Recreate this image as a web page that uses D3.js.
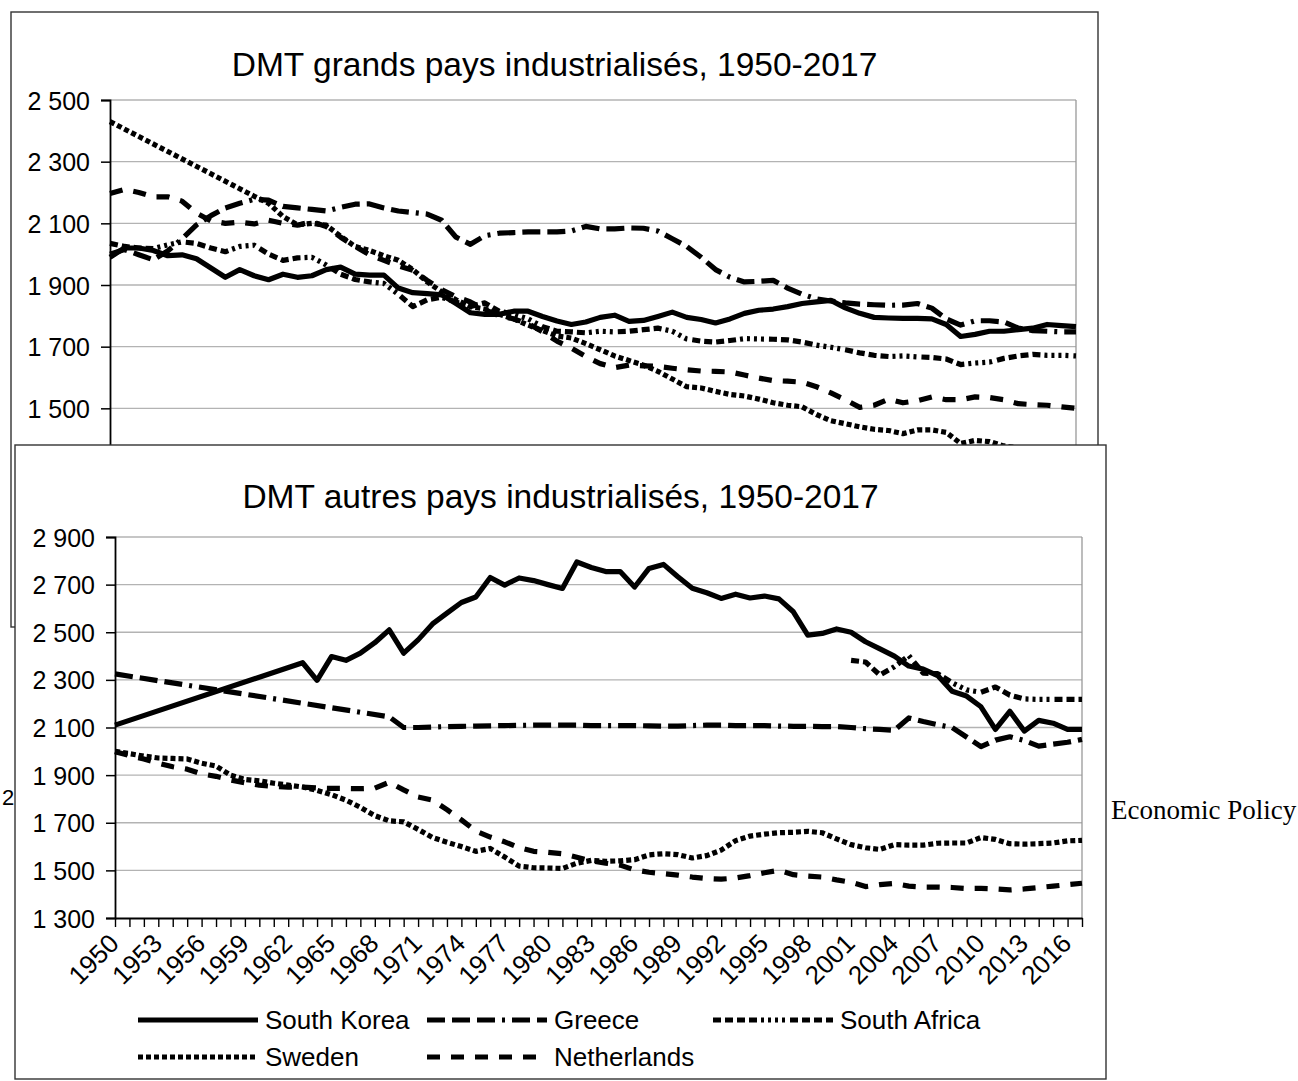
<!DOCTYPE html>
<html>
<head>
<meta charset="utf-8">
<script src="https://cdn.jsdelivr.net/npm/d3@7"></script>
<style>
  html, body { margin: 0; padding: 0; background: #fff; }
  svg { display: block; }
  text { font-family: "Liberation Sans", Arial, sans-serif; fill: #000; }
</style>
</head>
<body>
<svg id="chart" width="1298" height="1081"></svg>
<script>
// Yearly categories shared by both panels
const years = d3.range(1950, 2018);

// Panel 1: large industrialised countries (average annual hours worked)
const bigTitle = "DMT grands pays industrialisés, 1950-2017";
const bigNames = ["United States", "Japan", "United Kingdom", "Germany", "France"];
const bigTicks = [1300, 1500, 1700, 1900, 2100, 2300, 2500];

const unitedStates = [
  1990, 2020, 2020, 2012, 1995, 1998, 1985, 1955, 1925, 1950,
  1930, 1917, 1935, 1925, 1930, 1950, 1958, 1935, 1932, 1932,
  1890, 1875, 1872, 1868, 1840, 1810, 1805, 1805, 1815, 1815,
  1798, 1783, 1772, 1780, 1795, 1802, 1782, 1785, 1798, 1812,
  1795, 1788, 1777, 1790, 1808, 1818, 1822, 1830, 1840, 1845,
  1850, 1826, 1808, 1795, 1793, 1792, 1792, 1790, 1772, 1733,
  1740, 1750, 1750, 1755, 1760, 1772, 1768, 1765
];
const japan = [
  2000, 2015, 1998, 1982, 2010, 2050, 2095, 2125, 2150, 2165,
  2178, 2175, 2155, 2150, 2145, 2140, 2152, 2162, 2163, 2150,
  2140, 2135, 2130, 2110, 2055, 2032, 2060, 2068, 2070, 2072,
  2072, 2072, 2075, 2090, 2082, 2082, 2085, 2084, 2075, 2050,
  2025, 1990, 1950, 1925, 1910, 1912, 1915, 1890, 1870, 1855,
  1848, 1842, 1838, 1836, 1834, 1835, 1840, 1825, 1790, 1770,
  1784, 1784, 1780, 1760, 1752, 1750, 1748, 1748
];
const unitedKingdom = [
  2035, 2025, 2020, 2018, 2030, 2040, 2035, 2020, 2008, 2025,
  2029, 2000, 1980, 1988, 1990, 1965, 1935, 1918, 1910, 1905,
  1870, 1830, 1852, 1860, 1845, 1830, 1842, 1815, 1805, 1790,
  1765, 1750, 1748, 1745, 1750, 1748, 1750, 1755, 1760, 1750,
  1725, 1718, 1715, 1720, 1726, 1725, 1724, 1722, 1715, 1705,
  1698, 1690, 1680, 1672, 1668, 1670, 1667, 1665, 1660, 1642,
  1647, 1650, 1662, 1670, 1675, 1672, 1672, 1670
];
const germany = [
  2430, null, null, null, null, null, null, null, null, null,
  2188, 2165, 2122, 2095, 2100, 2094, 2058, 2025, 2012, 1995,
  1980, 1950, 1910, 1878, 1852, 1830, 1822, 1805, 1790, 1770,
  1752, 1735, 1728, 1710, 1690, 1670, 1655, 1640, 1620, 1595,
  1570, 1566, 1555, 1545, 1540, 1530, 1518, 1510, 1505, 1480,
  1460, 1450, 1440, 1432, 1428, 1418, 1430, 1430, 1422, 1386,
  1396, 1392, 1378, 1372, 1370, 1370, 1366, 1362
];
const france = [
  2197, 2210, 2200, 2186, 2186, 2172, 2133, 2108, 2100, 2104,
  2098, 2110, 2100, 2094, 2105, 2090, 2055, 2025, 1998, 1980,
  1962, 1948, 1915, 1885, 1862, 1845, 1820, 1800, 1790, 1775,
  1748, 1718, 1695, 1668, 1645, 1632, 1640, 1638, 1636, 1630,
  1625, 1621, 1620, 1618, 1608, 1598, 1590, 1588, 1585, 1570,
  1550, 1528, 1503, 1510, 1530, 1518, 1525, 1537, 1528, 1528,
  1537, 1535, 1528, 1515, 1512, 1510, 1505, 1500
];

// Panel 2: other industrialised countries
const otherTitle = "DMT autres pays industrialisés, 1950-2017";
const otherNames = ["South Korea", "Greece", "South Africa", "Sweden", "Netherlands"];
const otherTicks = [1300, 1500, 1700, 1900, 2100, 2300, 2500, 2700, 2900];

const southKorea = [
  2110, null, null, null, null, null, null, null, null, null,
  null, null, null, 2372, 2298, 2398, 2382, 2412, 2456, 2510,
  2412, 2468, 2535, 2580, 2625, 2648, 2730, 2698, 2728, 2717,
  2700, 2684, 2795, 2772, 2755, 2755, 2690, 2768, 2785, 2733,
  2685, 2666, 2642, 2660, 2644, 2652, 2640, 2586, 2488, 2495,
  2514, 2500, 2460, 2430, 2400, 2358, 2345, 2318, 2252, 2232,
  2187, 2092, 2168, 2085, 2130, 2118, 2092, 2092
];
const greece = [
  2325, null, null, null, null, null, null, null, null, null,
  null, null, null, null, null, null, null, null, null, 2145,
  2100, 2100, 2102, 2104, 2105, 2106, 2107, 2108, 2109, 2110,
  2110, 2110, 2110, 2108, 2108, 2108, 2108, 2107, 2106, 2106,
  2108, 2110, 2110, 2108, 2108, 2108, 2106, 2105, 2105, 2104,
  2104, 2100, 2095, 2092, 2088, 2140, 2125, 2112, 2100, 2060,
  2020, 2047, 2061, 2045, 2022, 2030, 2038, 2050
];
const southAfrica = [
  null, null, null, null, null, null, null, null, null, null,
  null, null, null, null, null, null, null, null, null, null,
  null, null, null, null, null, null, null, null, null, null,
  null, null, null, null, null, null, null, null, null, null,
  null, null, null, null, null, null, null, null, null, null,
  null, 2382, 2375, 2320, 2355, 2402, 2328, 2326, 2288, 2258,
  2248, 2270, 2236, 2220, 2218, 2218, 2218, 2218
];
const sweden = [
  2000, 1990, 1980, 1972, 1970, 1968, 1950, 1938, 1900, 1882,
  1876, 1866, 1858, 1850, 1836, 1818, 1795, 1765, 1730, 1708,
  1704, 1672, 1638, 1618, 1600, 1580, 1592, 1556, 1518, 1511,
  1510, 1508, 1530, 1542, 1538, 1540, 1545, 1565, 1570, 1566,
  1552, 1562, 1585, 1625, 1644, 1652, 1658, 1660, 1664, 1658,
  1632, 1608, 1595, 1588, 1608, 1606, 1606, 1614, 1615, 1615,
  1638, 1630, 1612, 1610, 1612, 1615, 1624, 1626
];
const netherlands = [
  1998, 1982, 1968, 1950, 1935, 1925, 1905, 1895, 1880, 1868,
  1858, 1852, 1850, 1850, 1846, 1844, 1844, 1843, 1845, 1870,
  1838, 1808, 1795, 1755, 1712, 1665, 1640, 1620, 1595, 1580,
  1576, 1570, 1555, 1540, 1530, 1522, 1502, 1492, 1486, 1480,
  1472, 1466, 1463, 1468, 1478, 1490, 1500, 1482, 1476, 1472,
  1460, 1450, 1432, 1440, 1445, 1434, 1430, 1430, 1428, 1424,
  1424, 1422, 1418, 1422, 1428, 1434, 1440, 1446
];

// ---- styling: one line pattern per series slot ----
const LINE_W = 5.2;
const dashes = [
  null,                                   // solid
  "18 7 18 7 18 7 3 7",                   // dash-dot
  "8 4 8 4 8 4 8 4 3 4 3 4 3 4 3 5",      // dash-dot-dot
  "5 3",                                  // dense dots
  "13 11"                                 // dashes
];

// French-style number grouping on the value axes
const fr = d3.formatLocale({ decimal: ",", thousands: "\u00a0", grouping: [3], currency: ["", ""] });
const fmt = fr.format(",d");

const svg = d3.select("#chart");

function drawPanel(cfg) {
  const g = svg.append("g");

  g.append("rect")
    .attr("x", cfg.frame[0]).attr("y", cfg.frame[1])
    .attr("width", cfg.frame[2]).attr("height", cfg.frame[3])
    .attr("fill", "#fff").attr("stroke", "#333").attr("stroke-width", 1.4);

  g.append("text")
    .attr("x", cfg.frame[0] + cfg.frame[2] / 2).attr("y", cfg.titleY)
    .attr("text-anchor", "middle").style("font-size", "33.5px")
    .text(cfg.title);

  const x = d3.scalePoint().domain(years).range([cfg.plot.x0, cfg.plot.x1]);
  const y = d3.scaleLinear().domain(cfg.domain).range([cfg.plot.y1, cfg.plot.y0]);

  // horizontal gridlines
  g.append("g").selectAll("line")
    .data(cfg.ticks.filter(t => t !== cfg.domain[0]))
    .join("line")
    .attr("x1", cfg.plot.x0).attr("x2", cfg.plot.x1)
    .attr("y1", d => y(d)).attr("y2", d => y(d))
    .attr("stroke", "#b3b3b3").attr("stroke-width", 1.3);

  // right edge of the plot area
  g.append("line")
    .attr("x1", cfg.plot.x1).attr("x2", cfg.plot.x1)
    .attr("y1", cfg.plot.y0).attr("y2", cfg.plot.y1)
    .attr("stroke", "#999").attr("stroke-width", 1.3);

  // value axis
  const yAxis = g.append("g")
    .attr("transform", `translate(${cfg.plot.x0},0)`)
    .call(d3.axisLeft(y).tickValues(cfg.ticks).tickSize(9).tickPadding(11).tickFormat(fmt));
  yAxis.select(".domain").attr("stroke", "#000").attr("stroke-width", 1.8);
  yAxis.selectAll(".tick line").attr("stroke", "#000").attr("stroke-width", 1.5);
  yAxis.selectAll("text").style("font-size", "25px").attr("dy", "0.36em")
    .style("font-family", "'Liberation Sans', Arial, sans-serif");

  // category axis
  const xAxis = g.append("g")
    .attr("transform", `translate(0,${cfg.plot.y1})`)
    .call(d3.axisBottom(x).tickValues(years).tickSize(9).tickSizeOuter(0)
      .tickFormat(d => (d - 1950) % 3 === 0 ? d : ""));
  xAxis.select(".domain").attr("stroke", "#000").attr("stroke-width", 2);
  xAxis.selectAll(".tick line").attr("stroke", "#000").attr("stroke-width", 1.4);
  xAxis.selectAll("text")
    .style("font-size", "26px")
    .style("font-family", "'Liberation Sans', Arial, sans-serif")
    .attr("text-anchor", "end")
    .attr("y", 0).attr("dy", 0)
    .attr("transform", "translate(5,27) rotate(-45)");

  // series lines (gaps in the data are bridged)
  const line = d3.line().x(d => x(d.yr)).y(d => y(d.v));
  cfg.series.forEach((vals, i) => {
    const pts = years.map((yr, k) => ({ yr, v: vals[k] })).filter(d => d.v !== null);
    g.append("path")
      .datum(pts)
      .attr("class", "series s" + i)
      .attr("fill", "none").attr("stroke", "#000")
      .attr("stroke-width", LINE_W)
      .attr("stroke-linejoin", "round")
      .attr("stroke-dasharray", dashes[i])
      .attr("d", line);
  });

  // legend
  if (cfg.legend) {
    cfg.names.forEach((name, i) => {
      const p = cfg.legend[i];
      g.append("line")
        .attr("x1", p[0]).attr("x2", p[0] + 120)
        .attr("y1", p[1]).attr("y2", p[1])
        .attr("stroke", "#000").attr("stroke-width", LINE_W)
        .attr("stroke-dasharray", dashes[i]);
      g.append("text")
        .attr("x", p[0] + 127).attr("y", p[1]).attr("dy", "0.36em")
        .style("font-size", "26px")
        .text(name);
    });
  }
  return g;
}

// Panel 1 (partly covered by panel 2)
drawPanel({
  frame: [11, 12, 1087, 615],
  titleY: 76,
  title: bigTitle,
  plot: { x0: 110, x1: 1076, y0: 100, y1: 470 },
  domain: [1300, 2500],
  ticks: bigTicks,
  series: [unitedStates, japan, unitedKingdom, germany, france],
  names: bigNames,
  legend: null
});

// fragment of a page element lying beneath panel 2
svg.append("text").attr("x", 2).attr("y", 805).style("font-size", "22px").text("2");

// Panel 2
drawPanel({
  frame: [15, 445, 1091, 634],
  titleY: 508,
  title: otherTitle,
  plot: { x0: 115, x1: 1082, y0: 537, y1: 918 },
  domain: [1300, 2900],
  ticks: otherTicks,
  series: [southKorea, greece, southAfrica, sweden, netherlands],
  names: otherNames,
  legend: [[138, 1020], [427, 1020], [713, 1020], [138, 1057], [427, 1057]]
});

// journal name beside the figure
svg.append("text")
  .attr("x", 1111).attr("y", 819)
  .style("font-family", "'Liberation Serif', 'Times New Roman', serif")
  .style("font-size", "27px")
  .text("Economic Policy");
</script>
</body>
</html>
